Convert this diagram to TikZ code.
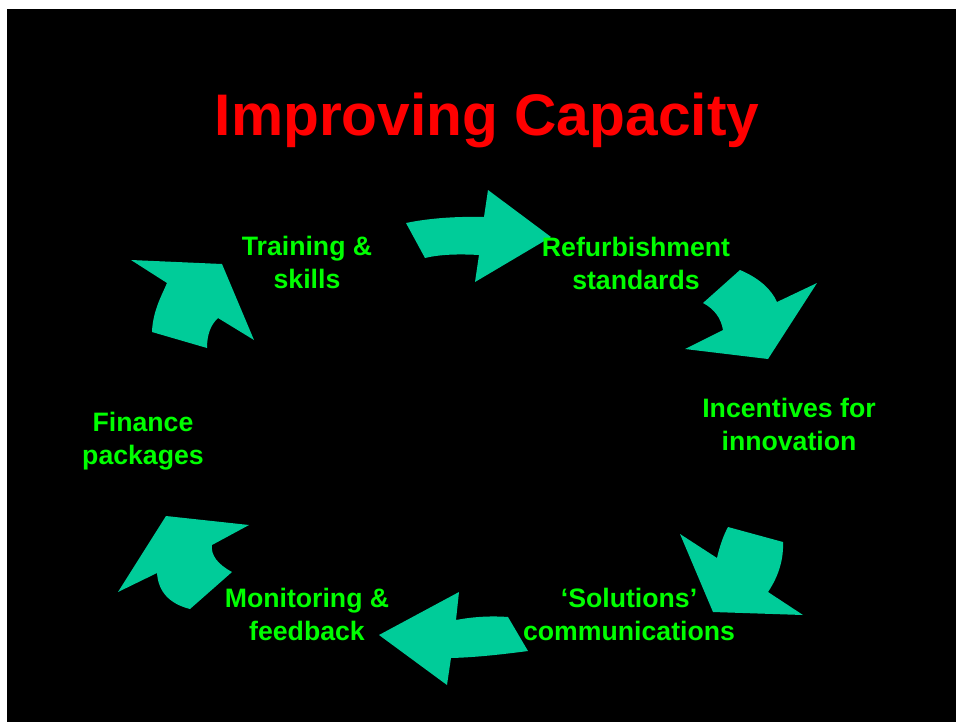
\documentclass[tikz,border=0pt]{standalone}
\usepackage{fontspec}
\setmainfont{Liberation Sans}
\usepackage{xcolor}

\definecolor{arrowteal}{RGB}{0,204,153}
\definecolor{stagegreen}{RGB}{0,255,0}
\definecolor{headred}{RGB}{255,0,0}

\tikzset{
    stage/.style={text=stagegreen, font=\fontsize{20}{24.5}\selectfont\bfseries,
        align=center, anchor=base, inner sep=0pt},
    heading/.style={text=headred, font=\fontsize{44}{50}\selectfont\bfseries,
        anchor=base, inner sep=0pt},
    turnarrow/.style={fill=arrowteal, draw=none},
}

\begin{document}
\begin{tikzpicture}[x=0.75pt, y=-0.75pt]
            \useasboundingbox (0, 0) rectangle (956, 722);
            \fill[white] (0, 0) rectangle (956, 722);
            \fill[black] (7, 9) rectangle (956, 722);

            % arrows round the cycle
            \fill[turnarrow] (406, 223) .. controls (428.7, 218.3) and (454.7, 216.3) .. (484, 217) -- (488, 190)
                -- (551, 237) -- (475, 282) -- (479, 255)
                .. controls (456.3, 253.7) and (438.3, 254.7) .. (425, 258) -- cycle;
            \fill[turnarrow] (740, 270) .. controls (758.7, 278) and (771, 288.7) .. (777, 302) -- (817, 283)
                -- (768, 359) -- (685, 349) -- (723, 330)
                .. controls (721, 318) and (714.3, 309) .. (703, 303) -- cycle;
            \fill[turnarrow] (728, 527) -- (783, 542) .. controls (783.7, 559.3) and (778.7, 576) .. (768, 592)
                -- (803, 615) -- (713, 612) -- (680, 534) -- (717, 558)
                .. controls (719.7, 546) and (723.3, 535.7) .. cycle;
            \fill[turnarrow] (528, 651) .. controls (502.7, 654.3) and (477, 657.3) .. (451, 658) -- (447, 685)
                -- (379, 635) -- (459, 592) -- (456, 620)
                .. controls (473.3, 616.7) and (490.7, 615.7) .. (508, 617) -- cycle;
            \fill[turnarrow] (190, 609) .. controls (169.3, 603.7) and (158.3, 591.7) .. (157, 573) -- (118, 592)
                -- (166, 516) -- (249, 525) -- (212, 545)
                .. controls (210.7, 555) and (217.3, 564) .. (232, 572) -- cycle;
            \fill[turnarrow] (152, 332) .. controls (152.7, 310.7) and (162.3, 294.3) .. (167, 283) -- (131, 260)
                -- (222, 264) -- (254, 340) -- (218, 318)
                .. controls (210.7, 324.7) and (207, 334.7) .. (207, 348) -- cycle;

            % texts (base is the last line)
            \node[heading] (title) at (487, 135) {Improving Capacity};
            \node[stage] (training) at (307, 288) {Training \&\\skills};
            \node[stage] (refurb) at (636, 289) {Refurbishment\\standards};
            \node[stage] (incent) at (789, 450) {Incentives for\\innovation};
            \node[stage] (solutions) at (629, 640) {‘Solutions’\\communications};
            \node[stage] (monitor) at (307, 640) {Monitoring \&\\feedback};
            \node[stage] (finance) at (143, 464) {Finance\\packages};
        \end{tikzpicture}
\end{document}
